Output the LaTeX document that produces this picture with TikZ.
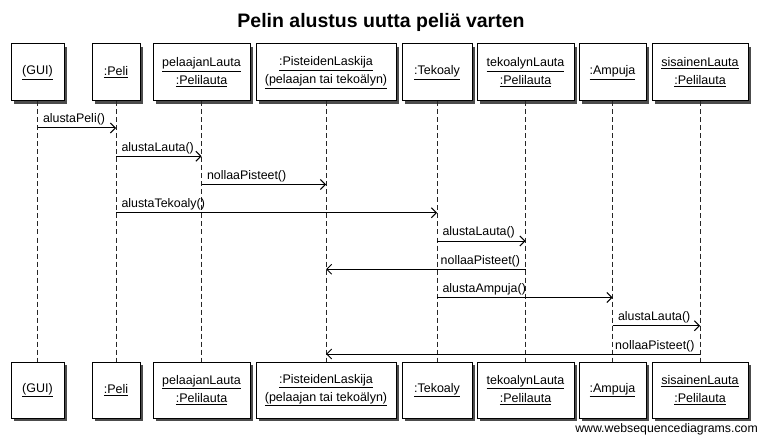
\documentclass[tikz,border=0pt]{standalone}
\usepackage{fontspec}
\setmainfont{Liberation Sans}
\usetikzlibrary{arrows.meta,shadows}
\begin{document}
\begin{tikzpicture}[x=1pt,y=-1pt,
  obj/.style={draw=black, line width=1pt, fill=white, inner sep=0pt, align=center,
    font=\fontsize{12.5}{18}\selectfont,
    general shadow={fill=black!70, shadow xshift=3pt, shadow yshift=-3pt}},
  life/.style={draw=black!85, line width=0.9pt, dash pattern=on 5pt off 3pt},
  msg/.style={draw=black, line width=1pt, -{Straight Barb[length=5pt,width=10pt]}},
  lblr/.style={pos=0, anchor=base west, xshift=5pt, yshift=5pt, inner sep=0pt, font=\fontsize{12.4}{14}\selectfont},
  lbll/.style={pos=0, anchor=base east, xshift=-5pt, yshift=5pt, inner sep=0pt, font=\fontsize{12.4}{14}\selectfont}]
\useasboundingbox[fill=white] (0,0) rectangle (761,441);

\node[anchor=base, font=\fontsize{19.5}{22}\selectfont\bfseries] (title) at (381,28) {Pelin alustus uutta peliä varten};

% top boxes
\node[obj, minimum width=53pt, minimum height=57pt] (t1) at (37.5,72.5) {\underline{(GUI)}};
\node[obj, minimum width=48pt, minimum height=57pt] (t2) at (116,72.5) {\underline{:Peli}};
\node[obj, minimum width=97pt, minimum height=57pt] (t3) at (201.5,72.5) {\underline{pelaajanLauta}\\\underline{:Pelilauta}};
\node[obj, minimum width=140pt, minimum height=57pt] (t4) at (326,72.5) {\underline{:PisteidenLaskija}\\\underline{(pelaajan tai tekoälyn)}};
\node[obj, minimum width=70pt, minimum height=57pt] (t5) at (437,72.5) {\underline{:Tekoaly}};
\node[obj, minimum width=97pt, minimum height=57pt] (t6) at (525.5,72.5) {\underline{tekoalynLauta}\\\underline{:Pelilauta}};
\node[obj, minimum width=67pt, minimum height=57pt] (t7) at (612.5,72.5) {\underline{:Ampuja}};
\node[obj, minimum width=96pt, minimum height=57pt] (t8) at (700,72.5) {\underline{sisainenLauta}\\\underline{:Pelilauta}};

% bottom boxes
\node[obj, minimum width=53pt, minimum height=56pt] (b1) at (37.5,390) {\underline{(GUI)}};
\node[obj, minimum width=48pt, minimum height=56pt] (b2) at (116,390) {\underline{:Peli}};
\node[obj, minimum width=97pt, minimum height=56pt] (b3) at (201.5,390) {\underline{pelaajanLauta}\\\underline{:Pelilauta}};
\node[obj, minimum width=140pt, minimum height=56pt] (b4) at (326,390) {\underline{:PisteidenLaskija}\\\underline{(pelaajan tai tekoälyn)}};
\node[obj, minimum width=70pt, minimum height=56pt] (b5) at (437,390) {\underline{:Tekoaly}};
\node[obj, minimum width=97pt, minimum height=56pt] (b6) at (525.5,390) {\underline{tekoalynLauta}\\\underline{:Pelilauta}};
\node[obj, minimum width=67pt, minimum height=56pt] (b7) at (612.5,390) {\underline{:Ampuja}};
\node[obj, minimum width=96pt, minimum height=56pt] (b8) at (700,390) {\underline{sisainenLauta}\\\underline{:Pelilauta}};

% lifelines
\foreach \i in {1,...,8} \draw[life] (t\i.south) -- (b\i.north);

% messages
\draw[msg] (t1 |- 0,128) -- node[lblr] (l1) {alustaPeli()} (t2 |- 0,128);
\draw[msg] (t2 |- 0,156.25) -- node[lblr] (l2) {alustaLauta()} (t3 |- 0,156.25);
\draw[msg] (t3 |- 0,184.5) -- node[lblr] (l3) {nollaaPisteet()} (t4 |- 0,184.5);
\draw[msg] (t2 |- 0,212.75) -- node[lblr] (l4) {alustaTekoaly()} (t5 |- 0,212.75);
\draw[msg] (t5 |- 0,241) -- node[lblr] (l5) {alustaLauta()} (t6 |- 0,241);
\draw[msg] (t6 |- 0,269.25) -- node[lbll] (l6) {nollaaPisteet()} (t4 |- 0,269.25);
\draw[msg] (t5 |- 0,297.5) -- node[lblr] (l7) {alustaAmpuja()} (t7 |- 0,297.5);
\draw[msg] (t7 |- 0,325.75) -- node[lblr] (l8) {alustaLauta()} (t8 |- 0,325.75);
\draw[msg] (t8 |- 0,354) -- node[lbll] (l9) {nollaaPisteet()} (t4 |- 0,354);

\node[anchor=base east, inner sep=0pt, font=\fontsize{12.3}{14}\selectfont] (wm) at (758,432) {www.websequencediagrams.com};
\end{tikzpicture}
\end{document}
